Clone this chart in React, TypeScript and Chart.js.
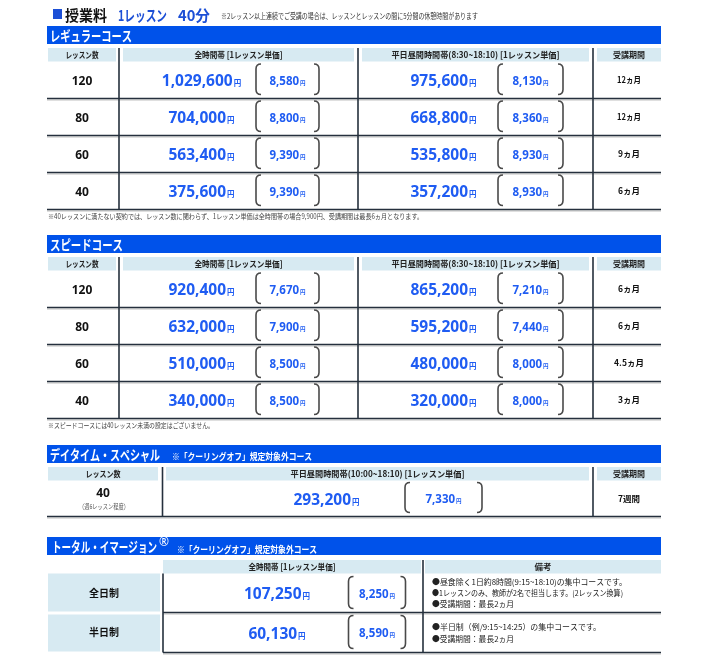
import React, { useEffect, useRef } from 'react';
import { Chart, registerables } from 'chart.js';
Chart.register(...registerables);

// ---------- data ----------
const regularLessons = ['120', '80', '60', '40'];
const regularAllPrice = [1029600, 704000, 563400, 375600];
const regularAllUnit = [8580, 8800, 9390, 9390];
const regularDayPrice = [975600, 668800, 535800, 357200];
const regularDayUnit = [8130, 8360, 8930, 8930];
const regularPeriod = ['12ヵ月', '12ヵ月', '9ヵ月', '6ヵ月'];

const speedLessons = ['120', '80', '60', '40'];
const speedAllPrice = [920400, 632000, 510000, 340000];
const speedAllUnit = [7670, 7900, 8500, 8500];
const speedDayPrice = [865200, 595200, 480000, 320000];
const speedDayUnit = [7210, 7440, 8000, 8000];
const speedPeriod = ['6ヵ月', '6ヵ月', '4.5ヵ月', '3ヵ月'];

const daytimeLessons = ['40'];
const daytimeSub = ['（週6レッスン程度）'];
const daytimePrice = [293200];
const daytimeUnit = [7330];
const daytimePeriod = ['7週間'];

const totalLabels = ['全日制', '半日制'];
const totalPrice = [107250, 60130];
const totalUnit = [8250, 8590];
const totalNotes = [
  ['●昼食除く1日約8時間(9:15~18:10)の集中コースです。', '●1レッスンのみ、教師が2名で担当します。(2レッスン換算)', '●受講期間：最長2ヵ月'],
  ['●半日制（例/9:15~14:25）の集中コースです。', '●受講期間：最長2ヵ月'],
];

const headLesson = 'レッスン数';
const headAll = '全時間帯 [1レッスン単価]';
const headDay = '平日昼間時間帯(8:30~18:10) [1レッスン単価]';
const headDay2 = '平日昼間時間帯(10:00~18:10) [1レッスン単価]';
const headPeriod = '受講期間';
const headNote = '備考';

const titleMain = '授業料';
const titleSub = ['1レッスン', '40分'];
const titleNote = '※2レッスン以上連続でご受講の場合は、レッスンとレッスンの間に5分間の休憩時間があります';
const regularTitle = 'レギュラーコース';
const regularNote = '※40レッスンに満たない契約では、レッスン数に関わらず、1レッスン単価は全時間帯の場合9,900円、受講期間は最長6ヵ月となります。';
const speedTitle = 'スピードコース';
const speedNote = '※スピードコースには40レッスン未満の設定はございません。';
const daytimeTitle = 'デイタイム・スペシャル';
const totalTitle = 'トータル・イマージョン';
const coolingOff = '※「クーリングオフ」規定対象外コース';

// ---------- styles ----------
const JP = '"Noto Sans CJK JP", "Noto Sans", sans-serif';
const NUM = '"Noto Sans", "Open Sans", sans-serif';
const BLUE_BAR = '#0052ea';
const BLUE_TXT = '#1f5cf2';
const BLUE_TITLE = '#1c4fd6';
const HEAD_BG = '#d7eaf2';
const LINE = '#25303d';

export default function App() {
  const ref = useRef<HTMLCanvasElement>(null);

  useEffect(() => {
    const canvas = ref.current!;
    const tablePlugin = {
      id: 'priceTable',
      afterDraw(chart: any) {
        const ctx: CanvasRenderingContext2D = chart.ctx;
        const X = (v: number) => chart.scales.x.getPixelForValue(v);
        const Y = (v: number) => chart.scales.y.getPixelForValue(v);

        const T = (s: string, x: number, y: number, size: number, color: string, o: any = {}) => {
          ctx.font = `${o.bold === false ? '' : 'bold '}${size}px ${o.fam ?? JP}`;
          ctx.fillStyle = color;
          ctx.textAlign = o.align ?? 'center';
          ctx.textBaseline = o.base ?? 'middle';
          if (o.w) ctx.fillText(s, X(x), Y(y), o.w);
          else ctx.fillText(s, X(x), Y(y));
        };
        const rect = (x1: number, y1: number, x2: number, y2: number, color: string) => {
          ctx.fillStyle = color;
          ctx.fillRect(X(x1), Y(y1), X(x2) - X(x1), Y(y2) - Y(y1));
        };
        const hline = (x1: number, x2: number, y: number) => {
          ctx.strokeStyle = LINE; ctx.lineWidth = 1.6;
          ctx.beginPath(); ctx.moveTo(X(x1), Y(y)); ctx.lineTo(X(x2), Y(y)); ctx.stroke();
          ctx.strokeStyle = 'rgba(110,110,110,0.45)'; ctx.lineWidth = 1;
          ctx.beginPath(); ctx.moveTo(X(x1), Y(y) + 1.5); ctx.lineTo(X(x2), Y(y) + 1.5); ctx.stroke();
        };
        const vline = (x: number, y1: number, y2: number) => {
          ctx.strokeStyle = LINE; ctx.lineWidth = 1.6;
          ctx.beginPath(); ctx.moveTo(X(x), Y(y1)); ctx.lineTo(X(x), Y(y2)); ctx.stroke();
        };
        const yen = (v: number, cx: number, base: number, numSize: number, yenSize: number) => {
          const s = v.toLocaleString('en-US');
          ctx.font = `bold ${numSize}px ${NUM}`;
          const w1 = ctx.measureText(s).width;
          ctx.font = `bold ${yenSize}px ${JP}`;
          const w2 = ctx.measureText('円').width;
          const x0 = X(cx) - (w1 + w2 + 1) / 2;
          ctx.fillStyle = BLUE_TXT; ctx.textAlign = 'left'; ctx.textBaseline = 'alphabetic';
          ctx.font = `bold ${numSize}px ${NUM}`;
          ctx.fillText(s, x0, Y(base));
          ctx.font = `bold ${yenSize}px ${JP}`;
          ctx.fillText('円', x0 + w1 + 1, Y(base));
        };
        const bracket = (cx: number, top: number, bottom: number, w: number) => {
          const l = X(cx - w / 2), r = X(cx + w / 2), t = Y(top), b = Y(bottom), k = 5;
          ctx.strokeStyle = '#4a4a4a'; ctx.lineWidth = 1.6;
          ctx.beginPath();
          ctx.moveTo(l + k, t); ctx.quadraticCurveTo(l, t, l, t + k); ctx.lineTo(l, b - k); ctx.quadraticCurveTo(l, b, l + k, b);
          ctx.moveTo(r - k, t); ctx.quadraticCurveTo(r, t, r, t + k); ctx.lineTo(r, b - k); ctx.quadraticCurveTo(r, b, r - k, b);
          ctx.stroke();
        };
        const bar = (top: number) => rect(47, top, 661, top + 18, BLUE_BAR);
        const head = (x1: number, x2: number, y1: number, s: string, w: number) => {
          rect(x1, y1, x2, y1 + 13.5, HEAD_BG);
          T(s, (x1 + x2) / 2, y1 + 7, 8.5, '#222', { w });
        };

        // ---- page title ----
        ctx.fillStyle = BLUE_TITLE;
        ctx.fillRect(X(53), Y(9), X(62) - X(53), Y(19) - Y(9));
        T(titleMain, 65, 15, 15, '#111', { align: 'left', w: 42 });
        T(titleSub[0], 118, 15, 15, BLUE_TITLE, { align: 'left', w: 49 });
        T(titleSub[1], 178, 15, 15, BLUE_TITLE, { align: 'left', w: 32 });
        T(titleNote, 221, 16, 7.5, '#333', { align: 'left', bold: false, w: 257 });

        // ---- regular / speed ----
        const fourCol = (barTop: number, title: string, titleW: number, lessons: string[], allP: number[], allU: number[],
          dayP: number[], dayU: number[], period: string[], note: string, noteW: number) => {
          bar(barTop);
          T(title, 50, barTop + 9.5, 14, '#fff', { align: 'left', w: titleW });
          const hT = barTop + 22;
          head(48, 116, hT, headLesson, 33);
          head(123, 354, hT, headAll, 88);
          head(362, 589, hT, headDay, 168);
          head(597, 661, hT, headPeriod, 32);
          const r0 = hT + 13.5, rh = 37;
          lessons.forEach((les, i) => {
            const top = r0 + rh * i, bottom = top + rh, cy = top + rh / 2;
            T(les, 82, cy + 4.5, 12, '#111', { fam: NUM, base: 'alphabetic' });
            yen(allP[i], 201.5, cy + 6, 15.5, 7.5);
            bracket(287.5, top + 2.5, bottom - 4, 63);
            yen(allU[i], 287.5, cy + 4.5, 11.5, 5.5);
            yen(dayP[i], 443.5, cy + 6, 15.5, 7.5);
            bracket(530.5, top + 2.5, bottom - 4, 65);
            yen(dayU[i], 530.5, cy + 4.5, 11.5, 5.5);
            T(period[i], 629, cy, 8.5, '#111', { w: period[i].length > 4 ? 30 : 24 });
            hline(47, 661, bottom);
          });
          const end = r0 + rh * lessons.length;
          vline(119, hT, end);
          vline(358, hT, end);
          vline(593, hT, end);
          T(note, 48, end + 7, 7, '#444', { align: 'left', bold: false, w: noteW });
        };

        fourCol(26, regularTitle, 82, regularLessons, regularAllPrice, regularAllUnit, regularDayPrice, regularDayUnit, regularPeriod, regularNote, 375);
        fourCol(235, speedTitle, 73, speedLessons, speedAllPrice, speedAllUnit, speedDayPrice, speedDayUnit, speedPeriod, speedNote, 166);

        // ---- daytime special ----
        {
          const bt = 445;
          bar(bt);
          T(daytimeTitle, 50, bt + 9.5, 14, '#fff', { align: 'left', w: 110 });
          T(coolingOff, 172, bt + 11, 9.5, '#fff', { align: 'left', w: 140 });
          const hT = bt + 22;
          head(48, 158, hT, headLesson, 35);
          head(166, 589, hT, headDay2, 174);
          head(597, 661, hT, headPeriod, 32);
          const r0 = hT + 13.5, rh = 36;
          daytimeLessons.forEach((les, i) => {
            const top = r0 + rh * i, bottom = top + rh, cy = top + rh / 2;
            T(les, 103, cy - 1.5, 12, '#111', { fam: NUM, base: 'alphabetic' });
            T(daytimeSub[i], 104, cy + 8, 6.5, '#555', { bold: false, w: 50 });
            yen(daytimePrice[i], 326.5, cy + 6, 15.5, 7.5);
            bracket(443.5, top + 2, bottom - 4, 77);
            yen(daytimeUnit[i], 443.5, cy + 4.5, 11.5, 5.5);
            T(daytimePeriod[i], 629, cy, 8.5, '#111', { w: 22 });
            hline(47, 661, bottom);
          });
          const end = r0 + rh * daytimeLessons.length;
          vline(162.5, hT, end);
          vline(593, hT, end);
        }

        // ---- total immersion ----
        {
          const bt = 537;
          bar(bt);
          T(totalTitle, 52, bt + 9.5, 14, '#fff', { align: 'left', w: 105 });
          T('®', 159, bt + 6, 12, '#fff', { align: 'left', bold: false, fam: NUM });
          T(coolingOff, 177, bt + 12, 9.5, '#fff', { align: 'left', w: 140 });
          const hT = bt + 23;
          rect(163, hT, 421, hT + 13.5, HEAD_BG);
          T(headAll, 292, hT + 7, 8.5, '#222', { w: 87 });
          rect(425, hT, 661, hT + 13.5, HEAD_BG);
          T(headNote, 543, hT + 7, 8.5, '#222');
          const r0 = hT + 13.5;
          const rows = [[r0, r0 + 39], [r0 + 39, r0 + 79]];
          totalLabels.forEach((lab, i) => {
            const [top, bottom] = rows[i];
            const cy = (top + bottom) / 2;
            rect(48, top + (i ? 2 : 0), 160, bottom - 1, HEAD_BG);
            T(lab, 104, cy, 10.5, '#111', { w: 30 });
            yen(totalPrice[i], 277, cy + 6, 15.5, 7.5);
            bracket(377, top + 3, bottom - 4, 57);
            yen(totalUnit[i], 377, cy + 4.5, 11.5, 5.5);
            const lines = totalNotes[i];
            const widths = i === 0 ? [195, 191, 82] : [169, 82];
            const starts = i === 0 ? [top + 8, top + 19, top + 30] : [top + 14.5, top + 26.5];
            lines.forEach((ln, j) => T(ln, 432, starts[j], 8, '#222', { align: 'left', bold: false, w: widths[j] }));
            hline(163, 661, bottom);
          });
          vline(163, r0, rows[1][1]);
          vline(423, hT, rows[1][1]);
        }
      },
    };

    const chart = new Chart(canvas, {
      type: 'scatter',
      data: { datasets: [{ data: [] }] },
      options: {
        animation: false,
        responsive: false,
        devicePixelRatio: 1,
        layout: { padding: 0 },
        plugins: { legend: { display: false }, tooltip: { enabled: false } },
        scales: {
          x: { type: 'linear', min: 0, max: 720, display: false },
          y: { type: 'linear', min: 0, max: 655, reverse: true, display: false },
        },
      },
      plugins: [tablePlugin],
    } as any);
    return () => chart.destroy();
  }, []);

  return (
    <div style={{ position: 'absolute', left: 0, top: 0, width: 720, height: 655, background: '#fff' }}>
      <canvas ref={ref} width={720} height={655} style={{ display: 'block' }} />
    </div>
  );
}
